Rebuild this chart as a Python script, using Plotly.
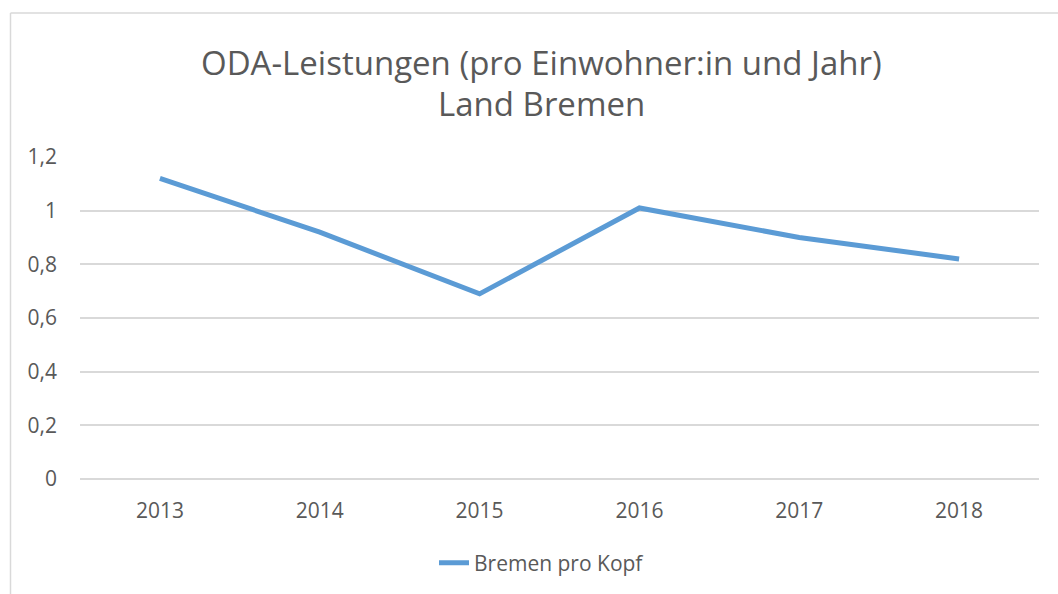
import plotly.graph_objects as go

years = ["2013", "2014", "2015", "2016", "2017", "2018"]
per_capita = [1.12, 0.92, 0.69, 1.01, 0.90, 0.82]
series_name = "Bremen pro Kopf"
title_lines = ["ODA-Leistungen (pro Einwohner:in und Jahr)", "Land Bremen"]

W, H = 1058, 594
L, R, T, B = 80, 19, 157, 114
TEXT = "#595959"
FONT = "Open Sans"

fig = go.Figure()
fig.add_trace(go.Scatter(
    x=years, y=per_capita, mode="lines", name=series_name,
    line=dict(color="#5B9BD5", width=5),
))

def px_to_paper(px, py):
    return (px - L) / (W - L - R), (H - B - py) / (H - T - B)

annotations = []
for text, cy in zip(title_lines, [62, 103]):
    ax, ay = px_to_paper(541.5, cy)
    annotations.append(dict(
        text=text, x=ax, y=ay, xref="paper", yref="paper",
        xanchor="center", yanchor="middle", showarrow=False,
        font=dict(family=FONT, size=33, color=TEXT),
    ))

lx, ly = px_to_paper(542, 563)

fig.update_layout(
    width=W, height=H,
    margin=dict(l=L, r=R, t=T, b=B),
    paper_bgcolor="white", plot_bgcolor="white",
    separators=",.",
    annotations=annotations,
    showlegend=True,
    legend=dict(
        orientation="h", x=lx, y=ly, xanchor="center", yanchor="middle",
        font=dict(family=FONT, size=21, color=TEXT),
    ),
    xaxis=dict(
        type="category", range=[-0.5, 5.5],
        showgrid=False, showline=False, zeroline=False, ticks="",
        tickfont=dict(family=FONT, size=21, color=TEXT),
        ticklabelstandoff=17,
    ),
    yaxis=dict(
        range=[0, 1.2], dtick=0.2, tick0=0,
        showgrid=True, gridcolor="#D9D9D9", gridwidth=1.5,
        zeroline=True, zerolinecolor="#D9D9D9", zerolinewidth=1.5,
        showline=False, ticks="",
        tickfont=dict(family=FONT, size=21, color=TEXT),
        ticklabelstandoff=22,
    ),
    shapes=[
        dict(type="line", xref="paper", yref="paper",
             x0=px_to_paper(10.5, 0)[0], x1=px_to_paper(10.5, 0)[0],
             y0=px_to_paper(0, 12.5)[1], y1=px_to_paper(0, 600)[1],
             line=dict(color="#D9D9D9", width=1.5), layer="below"),
        dict(type="line", xref="paper", yref="paper",
             x0=px_to_paper(10.5, 0)[0], x1=px_to_paper(1065, 0)[0],
             y0=px_to_paper(0, 12.5)[1], y1=px_to_paper(0, 12.5)[1],
             line=dict(color="#D9D9D9", width=1.5), layer="below"),
    ],
)

fig.write_html("out.html")
